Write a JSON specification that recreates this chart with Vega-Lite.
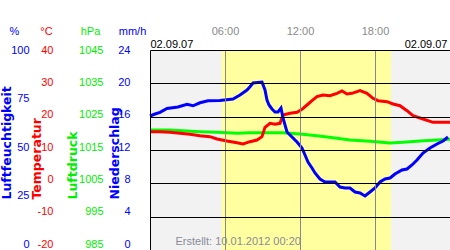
{
  "$schema": "https://vega.github.io/schema/vega-lite/v6.json",
  "width": 300,
  "height": 200,
  "autosize": {"type": "none"},
  "padding": {"left": 150, "top": 50, "right": 0, "bottom": 0},
  "background": "white",
  "config": {
    "view": {"stroke": null},
    "font": "Liberation Sans",
    "axis": {"labelFont": "Liberation Sans", "titleFont": "Liberation Sans"}
  },
  "datasets": {
    "day": [{"start": 0, "end": 24, "sunrise": 5.73, "sunset": 19.28}],
    "hum": [
      {"h": 0, "v": 67}, {"h": 0.4, "v": 68}, {"h": 0.8, "v": 68.8}, {"h": 1.36, "v": 70.8}, {"h": 2.24, "v": 71.5},
      {"h": 2.96, "v": 72.8}, {"h": 3.44, "v": 72.1}, {"h": 4.0, "v": 73.6}, {"h": 4.64, "v": 74.6}, {"h": 5.6, "v": 74.8},
      {"h": 6.64, "v": 75.5}, {"h": 7.2, "v": 77.5}, {"h": 7.76, "v": 80}, {"h": 8.0, "v": 81.6}, {"h": 8.24, "v": 83.5},
      {"h": 8.96, "v": 84}, {"h": 9.2, "v": 80}, {"h": 9.36, "v": 75}, {"h": 9.52, "v": 72.5}, {"h": 9.76, "v": 70.5},
      {"h": 10.0, "v": 69}, {"h": 10.24, "v": 69}, {"h": 10.48, "v": 71}, {"h": 10.64, "v": 66}, {"h": 10.96, "v": 59},
      {"h": 11.36, "v": 56.5}, {"h": 11.76, "v": 54}, {"h": 12.16, "v": 51}, {"h": 12.4, "v": 47.5}, {"h": 12.64, "v": 44},
      {"h": 12.96, "v": 41}, {"h": 13.2, "v": 38.5}, {"h": 13.6, "v": 35.5}, {"h": 14.0, "v": 34}, {"h": 14.8, "v": 34},
      {"h": 15.2, "v": 31.5}, {"h": 15.6, "v": 31}, {"h": 16.0, "v": 31}, {"h": 16.4, "v": 29}, {"h": 16.8, "v": 28.5},
      {"h": 17.2, "v": 27}, {"h": 17.6, "v": 29}, {"h": 18.0, "v": 31}, {"h": 18.4, "v": 34}, {"h": 18.8, "v": 35.5},
      {"h": 19.2, "v": 36}, {"h": 19.6, "v": 38}, {"h": 20.16, "v": 40}, {"h": 20.56, "v": 40.5}, {"h": 20.96, "v": 42.5},
      {"h": 21.36, "v": 45}, {"h": 21.84, "v": 48.5}, {"h": 22.4, "v": 51}, {"h": 22.96, "v": 53}, {"h": 23.44, "v": 54.5},
      {"h": 23.84, "v": 56.5}
    ],
    "temp": [
      {"h": 0, "v": 15.5}, {"h": 0.8, "v": 15.5}, {"h": 1.6, "v": 15.3}, {"h": 2.4, "v": 15.0}, {"h": 3.2, "v": 14.7},
      {"h": 4.0, "v": 14.3}, {"h": 4.8, "v": 14.0}, {"h": 5.36, "v": 13.3}, {"h": 6.16, "v": 12.7}, {"h": 6.96, "v": 12.2},
      {"h": 7.44, "v": 11.8}, {"h": 8.0, "v": 12.5}, {"h": 8.56, "v": 13.0}, {"h": 8.96, "v": 14.0}, {"h": 9.2, "v": 16.8},
      {"h": 9.6, "v": 18.0}, {"h": 10.0, "v": 17.7}, {"h": 10.4, "v": 18.0}, {"h": 10.64, "v": 20.5}, {"h": 11.2, "v": 21.0},
      {"h": 11.76, "v": 21.3}, {"h": 12.16, "v": 22.2}, {"h": 12.56, "v": 23.5}, {"h": 12.96, "v": 24.8}, {"h": 13.36, "v": 26.0},
      {"h": 13.84, "v": 26.5}, {"h": 14.4, "v": 26.3}, {"h": 14.96, "v": 27.0}, {"h": 15.36, "v": 27.7}, {"h": 15.76, "v": 26.8},
      {"h": 16.16, "v": 27.0}, {"h": 16.8, "v": 27.8}, {"h": 17.36, "v": 27.0}, {"h": 17.84, "v": 25.5}, {"h": 18.24, "v": 24.8},
      {"h": 18.96, "v": 24.5}, {"h": 19.44, "v": 23.8}, {"h": 20.0, "v": 23.3}, {"h": 20.56, "v": 21.8}, {"h": 21.04, "v": 20.3},
      {"h": 21.84, "v": 19.3}, {"h": 22.64, "v": 18.3}, {"h": 24, "v": 18.3}
    ],
    "pres": [
      {"h": 0, "v": 1021.0}, {"h": 1.6, "v": 1021.0}, {"h": 2.64, "v": 1020.8}, {"h": 4.0, "v": 1020.5}, {"h": 5.36, "v": 1020.3},
      {"h": 6.96, "v": 1020.0}, {"h": 8.0, "v": 1020.2}, {"h": 10.64, "v": 1020.2}, {"h": 12.0, "v": 1019.8}, {"h": 13.36, "v": 1019.3},
      {"h": 14.64, "v": 1018.7}, {"h": 16.0, "v": 1018.0}, {"h": 17.6, "v": 1017.6}, {"h": 19.2, "v": 1017.1}, {"h": 20.24, "v": 1017.3},
      {"h": 21.6, "v": 1017.7}, {"h": 22.96, "v": 1018.0}, {"h": 24, "v": 1018.2}
    ],
    "nied": [
      {"h": 0, "v": 0}, {"h": 3, "v": 0}, {"h": 6, "v": 0}, {"h": 9, "v": 0},
      {"h": 12, "v": 0}, {"h": 15, "v": 0}, {"h": 18, "v": 0}, {"h": 21, "v": 0}
    ]
  },
  "layer": [
    {
      "data": {"name": "day"},
      "mark": {"type": "rect", "color": "#f2f2f2"},
      "encoding": {
        "x": {"field": "start", "type": "quantitative", "scale": {"domain": [0, 24], "nice": false, "zero": false},
          "axis": {"orient": "top", "labels": false, "ticks": false, "domain": false, "grid": false,
            "title": "02.09.07", "titleX": 297, "titleY": -3, "titleAlign": "right", "titleBaseline": "alphabetic",
            "titleAngle": 0, "titleFontSize": 11, "titleFontWeight": "normal", "titleColor": "#000000"}},
        "x2": {"field": "end"}
      }
    },
    {
      "data": {"name": "day"},
      "mark": {"type": "rect", "color": "#ffffa0"},
      "encoding": {
        "x": {"field": "sunrise", "type": "quantitative", "scale": {"domain": [0, 24], "nice": false, "zero": false},
          "axis": {"orient": "top", "values": [6, 12, 18],
            "labelExpr": "(datum.value < 10 ? '0' : '') + datum.value + ':00'",
            "labelColor": "#8a8a8a", "labelFontSize": 11, "labelPadding": 14, "ticks": false, "tickSize": 0, "domain": false,
            "grid": true, "gridColor": "#888888", "gridWidth": 1, "zindex": 1,
            "title": "02.09.07", "titleX": 0, "titleY": -3, "titleAlign": "left", "titleBaseline": "alphabetic",
            "titleAngle": 0, "titleFontSize": 11, "titleFontWeight": "normal", "titleColor": "#000000"}},
        "x2": {"field": "sunset"},
        "y": {"datum": 0, "type": "quantitative", "scale": {"domain": [0, 1], "nice": false, "zero": false},
          "axis": {"orient": "left", "labels": false, "ticks": false, "grid": false, "domain": true,
            "domainColor": "#000000", "domainWidth": 1, "zindex": 1,
            "title": "Erstellt: 10.01.2012 00:20", "titleAngle": 0, "titleX": 25, "titleY": 194,
            "titleAlign": "left", "titleBaseline": "alphabetic", "titleColor": "#8a8a9a",
            "titleFontSize": 11, "titleFontWeight": "normal"}},
        "y2": {"datum": 1}
      }
    },
    {
      "data": {"name": "pres"},
      "mark": {"type": "line", "color": "#00ff00", "strokeWidth": 3},
      "encoding": {
        "x": {"field": "h", "type": "quantitative", "scale": {"domain": [0, 24], "nice": false, "zero": false},
          "axis": {"orient": "top", "labels": false, "ticks": false, "domain": false, "grid": false,
            "title": "hPa", "titleX": -60, "titleY": -16, "titleAlign": "center", "titleBaseline": "alphabetic",
            "titleAngle": 0, "titleFontSize": 11, "titleFontWeight": "normal", "titleColor": "#00ee00"}},
        "y": {"field": "v", "type": "quantitative", "scale": {"domain": [985, 1045], "nice": false, "zero": false},
          "axis": {"orient": "left", "offset": 47, "values": [985, 995, 1005, 1015, 1025, 1035, 1045],
            "labelExpr": "'' + datum.value",
            "labelColor": "#00ee00", "labelFontSize": 11, "labelPadding": 0, "ticks": false, "tickSize": 0,
            "domain": false, "grid": false, "labelOffset": {"expr": "-(1045 - datum.value) * 0.1"},
            "title": "Luftdruck", "titleAngle": 270, "titleX": -27, "titleY": 149, "titleAlign": "left",
            "titleBaseline": "alphabetic", "titleFont": "DejaVu Sans", "titleFontWeight": "bold",
            "titleFontSize": 12.5, "titleColor": "#00ee00"}}
      }
    },
    {
      "data": {"name": "temp"},
      "mark": {"type": "line", "color": "#ff0000", "strokeWidth": 3},
      "encoding": {
        "x": {"field": "h", "type": "quantitative", "scale": {"domain": [0, 24], "nice": false, "zero": false},
          "axis": {"orient": "top", "labels": false, "ticks": false, "domain": false, "grid": false,
            "title": "°C", "titleX": -104, "titleY": -16, "titleAlign": "center", "titleBaseline": "alphabetic",
            "titleAngle": 0, "titleFontSize": 11, "titleFontWeight": "normal", "titleColor": "#ff0000"}},
        "y": {"field": "v", "type": "quantitative", "scale": {"domain": [-20, 40], "nice": false, "zero": false},
          "axis": {"orient": "left", "offset": 97, "values": [-20, -10, 0, 10, 20, 30, 40],
            "labelExpr": "'' + datum.value",
            "labelColor": "#ff0000", "labelFontSize": 11, "labelPadding": 0, "ticks": false, "tickSize": 0,
            "domain": false, "grid": true, "gridColor": "#000000", "gridWidth": 1, "gridOpacity": 1, "zindex": 1,
            "labelOffset": {"expr": "-(40 - datum.value) * 0.1"},
            "title": "Temperatur", "titleAngle": 270, "titleX": -13, "titleY": 149, "titleAlign": "left",
            "titleBaseline": "alphabetic", "titleFont": "DejaVu Sans", "titleFontWeight": "bold",
            "titleFontSize": 12.5, "titleColor": "#ff0000"}}
      }
    },
    {
      "data": {"name": "hum"},
      "mark": {"type": "line", "color": "#0000ff", "strokeWidth": 3},
      "encoding": {
        "x": {"field": "h", "type": "quantitative", "scale": {"domain": [0, 24], "nice": false, "zero": false},
          "axis": {"orient": "top", "labels": false, "ticks": false, "domain": false, "grid": false,
            "title": "%", "titleX": -136, "titleY": -16, "titleAlign": "center", "titleBaseline": "alphabetic",
            "titleAngle": 0, "titleFontSize": 11, "titleFontWeight": "normal", "titleColor": "#0000ff"}},
        "y": {"field": "v", "type": "quantitative", "scale": {"domain": [0, 100], "nice": false, "zero": false},
          "axis": {"orient": "left", "offset": 121, "values": [0, 25, 50, 75, 100],
            "labelExpr": "'' + datum.value",
            "labelColor": "#0000ff", "labelFontSize": 11, "labelPadding": 0, "ticks": false, "tickSize": 0,
            "domain": false, "grid": false, "labelOffset": {"expr": "-(100 - datum.value) * 0.06"},
            "title": "Luftfeuchtigkeit", "titleAngle": 270, "titleX": -19, "titleY": 149, "titleAlign": "left",
            "titleBaseline": "alphabetic", "titleFont": "DejaVu Sans", "titleFontWeight": "bold",
            "titleFontSize": 12.5, "titleColor": "#0000ff"}}
      }
    },
    {
      "data": {"name": "nied"},
      "mark": {"type": "bar", "color": "#0000ff"},
      "encoding": {
        "x": {"field": "h", "type": "quantitative", "scale": {"domain": [0, 24], "nice": false, "zero": false},
          "axis": {"orient": "top", "labels": false, "ticks": false, "domain": false, "grid": false,
            "title": "mm/h", "titleX": -18, "titleY": -16, "titleAlign": "center", "titleBaseline": "alphabetic",
            "titleAngle": 0, "titleFontSize": 11, "titleFontWeight": "normal", "titleColor": "#0000ff"}},
        "y": {"field": "v", "type": "quantitative", "scale": {"domain": [0, 24], "nice": false, "zero": false},
          "axis": {"orient": "left", "offset": 20, "values": [0, 4, 8, 12, 16, 20, 24],
            "labelExpr": "'' + datum.value",
            "labelColor": "#0000ff", "labelFontSize": 11, "labelPadding": 0, "ticks": false, "tickSize": 0,
            "domain": false, "grid": false, "labelOffset": {"expr": "-(24 - datum.value) * 0.25"},
            "title": "Niederschlag", "titleAngle": 270, "titleX": -12, "titleY": 149, "titleAlign": "left",
            "titleBaseline": "alphabetic", "titleFont": "DejaVu Sans", "titleFontWeight": "bold",
            "titleFontSize": 12.5, "titleColor": "#0000ff"}}
      }
    }
  ],
  "resolve": {
    "scale": {"x": "independent", "y": "independent"},
    "axis": {"x": "independent", "y": "independent"}
  }
}
